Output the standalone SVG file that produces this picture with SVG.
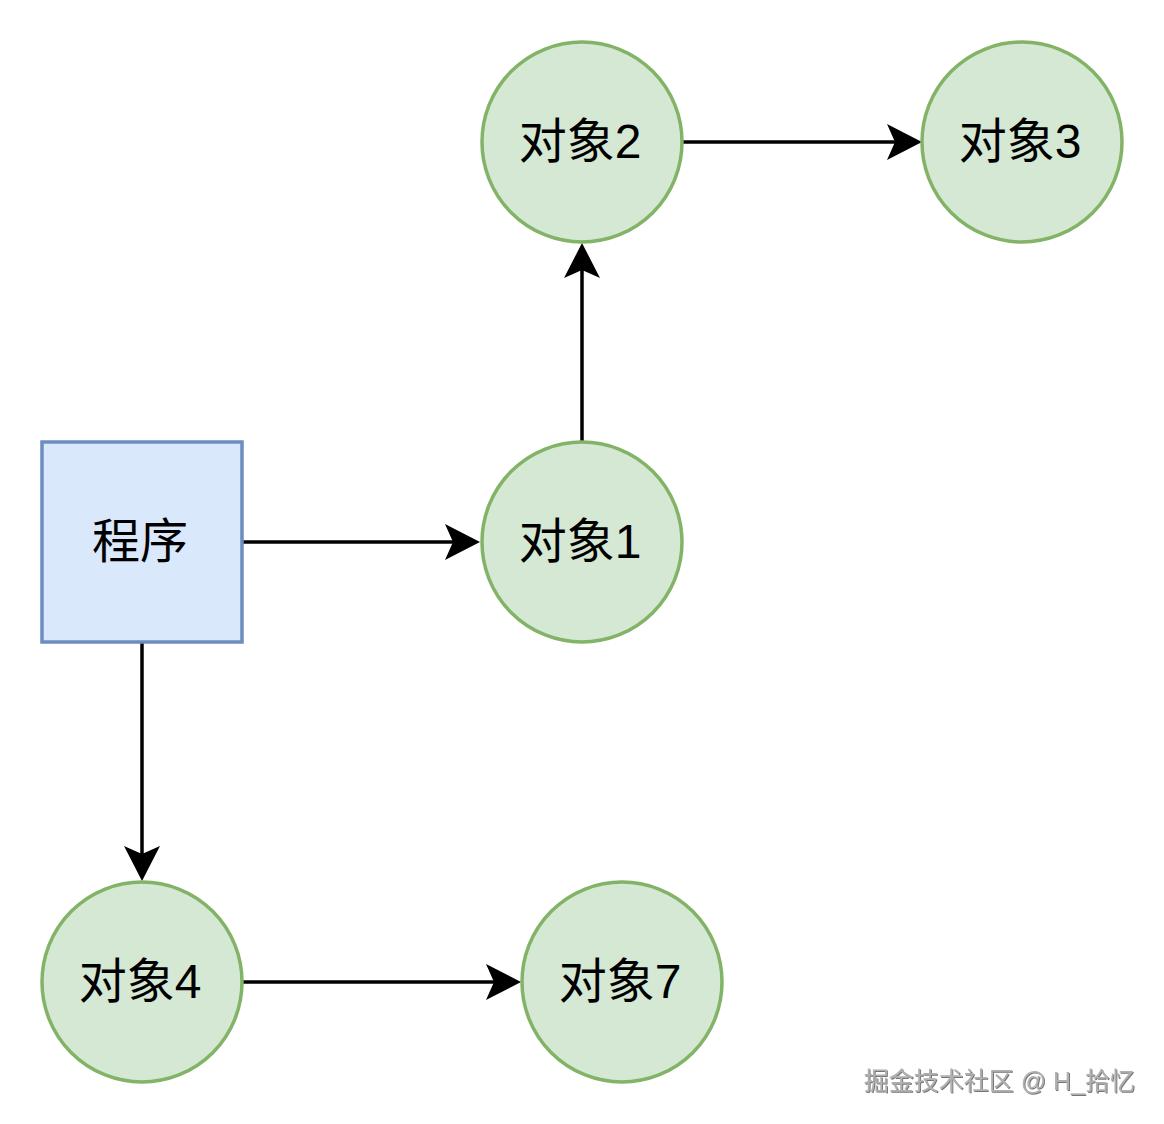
<svg xmlns="http://www.w3.org/2000/svg" width="1164" height="1124" viewBox="0 0 1164 1124">
  <style>
    .obj { fill: #d5e8d4; stroke: #82b366; stroke-width: 3.5; }
    .prog { fill: #dae8fc; stroke: #6c8ebf; stroke-width: 3.5; }
    .lbl { font-family: "Liberation Sans", "Noto Sans CJK SC", sans-serif; font-size: 48px; fill: #000000; text-anchor: middle; }
    .edge { stroke: #000000; stroke-width: 3.5; fill: none; marker-end: url(#arrow); }
    .wm { font-family: "Liberation Sans", "Noto Sans CJK SC", sans-serif; font-size: 25px; fill: #b0b0b0; }
  </style>
  <defs>
    <marker id="arrow" viewBox="0 0 35 36" refX="8" refY="18" markerWidth="35" markerHeight="36" markerUnits="userSpaceOnUse" orient="auto">
      <path d="M0,0 L35,18 L0,36 L8,18 Z" fill="#000000"/>
    </marker>
    <filter id="shadow" x="-5%" y="-30%" width="110%" height="160%">
      <feDropShadow dx="1" dy="1" stdDeviation="0.6" flood-color="#555555" flood-opacity="0.8"/>
    </filter>
  </defs>
  <rect width="1164" height="1124" fill="#ffffff"/>
  <g id="connectors">
    <line class="edge" x1="683" y1="142" x2="895" y2="142"/>
    <line class="edge" x1="582" y1="441" x2="582" y2="270"/>
    <line class="edge" x1="243" y1="542" x2="453" y2="542"/>
    <line class="edge" x1="142" y1="643" x2="142" y2="854"/>
    <line class="edge" x1="243" y1="982" x2="494" y2="982"/>
  </g>
  <g id="node-program">
    <rect class="prog" x="42" y="442" width="200" height="200"/>
    <text class="lbl" x="140" y="558">程序</text>
  </g>
  <g id="node-obj1">
    <circle class="obj" cx="582" cy="542" r="100"/>
    <text class="lbl" x="580" y="558">对象1</text>
  </g>
  <g id="node-obj2">
    <circle class="obj" cx="582" cy="142" r="100"/>
    <text class="lbl" x="580" y="158">对象2</text>
  </g>
  <g id="node-obj3">
    <circle class="obj" cx="1022" cy="142" r="100"/>
    <text class="lbl" x="1020" y="158">对象3</text>
  </g>
  <g id="node-obj4">
    <circle class="obj" cx="142" cy="982" r="100"/>
    <text class="lbl" x="140" y="998">对象4</text>
  </g>
  <g id="node-obj7">
    <circle class="obj" cx="622" cy="982" r="100"/>
    <text class="lbl" x="620" y="998">对象7</text>
  </g>
  <g id="watermark">
    <text class="wm" x="1135" y="1090" text-anchor="end" filter="url(#shadow)">掘金技术社区 @ H_拾忆</text>
  </g>
</svg>
